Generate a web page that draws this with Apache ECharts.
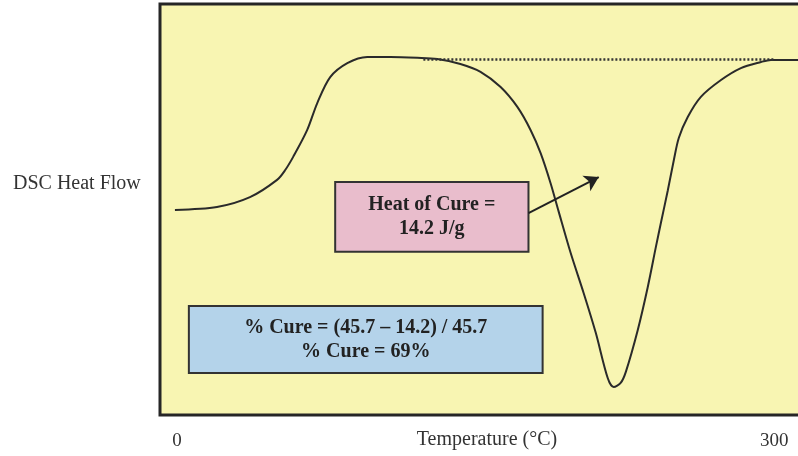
<!DOCTYPE html>
<html>
<head>
<meta charset="utf-8">
<script src="https://cdn.jsdelivr.net/npm/echarts@6/dist/echarts.min.js"></script>
<style>html,body{margin:0;padding:0;background:#fff;}#c{width:798px;height:456px;}</style>
</head>
<body>
<div id="c"></div>
<script>
// Temperature (°C) and DSC heat flow (arbitrary units, 0-100)
var temps    = [-1.0, 20.1, 36.7, 50.3, 54.4, 58.4, 65.4, 70.5, 77.0, 85.6, 95.6, 107.2, 120.8, 130.8, 142.4, 152.5, 162.6, 171.1, 177.7, 182.7, 187.7, 191.7, 197.8, 204.3, 210.4, 216.4, 219.4, 222.9, 225.5, 231.5, 236.5, 240.6, 243.1, 246.6, 249.6, 252.1, 256.6, 263.2, 273.3, 283.3, 293.4, 298.4, 315.0];
var heatFlow = [49.9, 50.6, 53.0, 57.2, 59.6, 62.8, 69.3, 75.9, 82.2, 85.6, 87.1, 87.1, 86.9, 86.6, 85.4, 83.5, 79.8, 74.9, 69.3, 63.7, 56.4, 49.6, 39.4, 29.7, 20.0, 9.0, 6.8, 7.8, 10.5, 20.7, 31.1, 40.9, 46.7, 54.7, 62.0, 67.4, 72.5, 77.4, 81.5, 84.4, 85.9, 86.4, 86.4];
var xTicks = [0, 300];
var baselineX = [123.8, 299.9];
var baselineY = 86.6;
var arrowFrom = [176.6, 49.1];
var arrowTo = [211.9, 57.9];
var pinkBox = [[79.5, 56.7], [176.6, 39.7]];
var blueBox = [[6.0, 26.5], [183.7, 10.2]];
var pinkText = 'Heat of Cure =\n14.2 J/g';
var blueText = '% Cure = (45.7 \u2013 14.2) / 45.7\n% Cure = 69%';

var serif = '"Liberation Serif", "DejaVu Serif", serif';
var pts = temps.map(function (t, i) { return [t, heatFlow[i]]; });

var chart = echarts.init(document.getElementById('c'), null, {renderer: 'canvas'});
chart.setOption({
  animation: false,
  backgroundColor: '#ffffff',
  grid: {
    left: 160, top: 4, right: -6, bottom: 41,
    containLabel: false, outerBoundsMode: 'none',
    show: true, backgroundColor: '#f8f5b2', borderColor: '#262626', borderWidth: 3
  },
  xAxis: {
    type: 'value', min: -8.5, max: 315,
    name: 'Temperature (\u00b0C)', nameLocation: 'middle', nameGap: 15, nameMoveOverlap: false,
    nameTextStyle: {fontFamily: serif, fontSize: 20, color: '#333', verticalAlign: 'top', padding: [0, 0, 0, 10]},
    axisLine: {show: false}, axisTick: {show: false}, splitLine: {show: false},
    axisLabel: {customValues: xTicks, fontFamily: serif, fontSize: 19, color: '#333', margin: 17}
  },
  yAxis: {
    type: 'value', min: 0, max: 100,
    axisLine: {show: false}, axisTick: {show: false}, splitLine: {show: false}, axisLabel: {show: false}
  },
  graphic: [{
    type: 'text', left: 13, top: 174,
    style: {text: 'DSC Heat Flow', font: '20px ' + serif, fill: '#333'}
  }],
  series: [{
    type: 'line', data: pts, showSymbol: false, smooth: 0.3,
    lineStyle: {color: '#2a2a2a', width: 2},
    emphasis: {disabled: true},
    markArea: {
      silent: true,
      label: {show: true, position: 'inside', fontFamily: serif, fontWeight: 'bold', fontSize: 20, color: '#222', lineHeight: 24, align: 'center'},
      data: [
        [{coord: pinkBox[0], name: pinkText, itemStyle: {color: '#e9bdcc', borderColor: '#333', borderWidth: 2}}, {coord: pinkBox[1]}],
        [{coord: blueBox[0], name: blueText, itemStyle: {color: '#b4d3ea', borderColor: '#333', borderWidth: 2}}, {coord: blueBox[1]}]
      ]
    },
    markLine: {
      silent: true,
      label: {show: false},
      data: [
        [{coord: [baselineX[0], baselineY], symbol: 'none', lineStyle: {type: [2, 2], width: 2.5, color: '#333'}}, {coord: [baselineX[1], baselineY], symbol: 'none'}],
        [{coord: arrowFrom, symbol: 'none', lineStyle: {type: 'solid', width: 2, color: '#222'}}, {coord: arrowTo, symbol: 'arrow', symbolSize: [13, 14]}]
      ]
    }
  }]
});
</script>
</body>
</html>
